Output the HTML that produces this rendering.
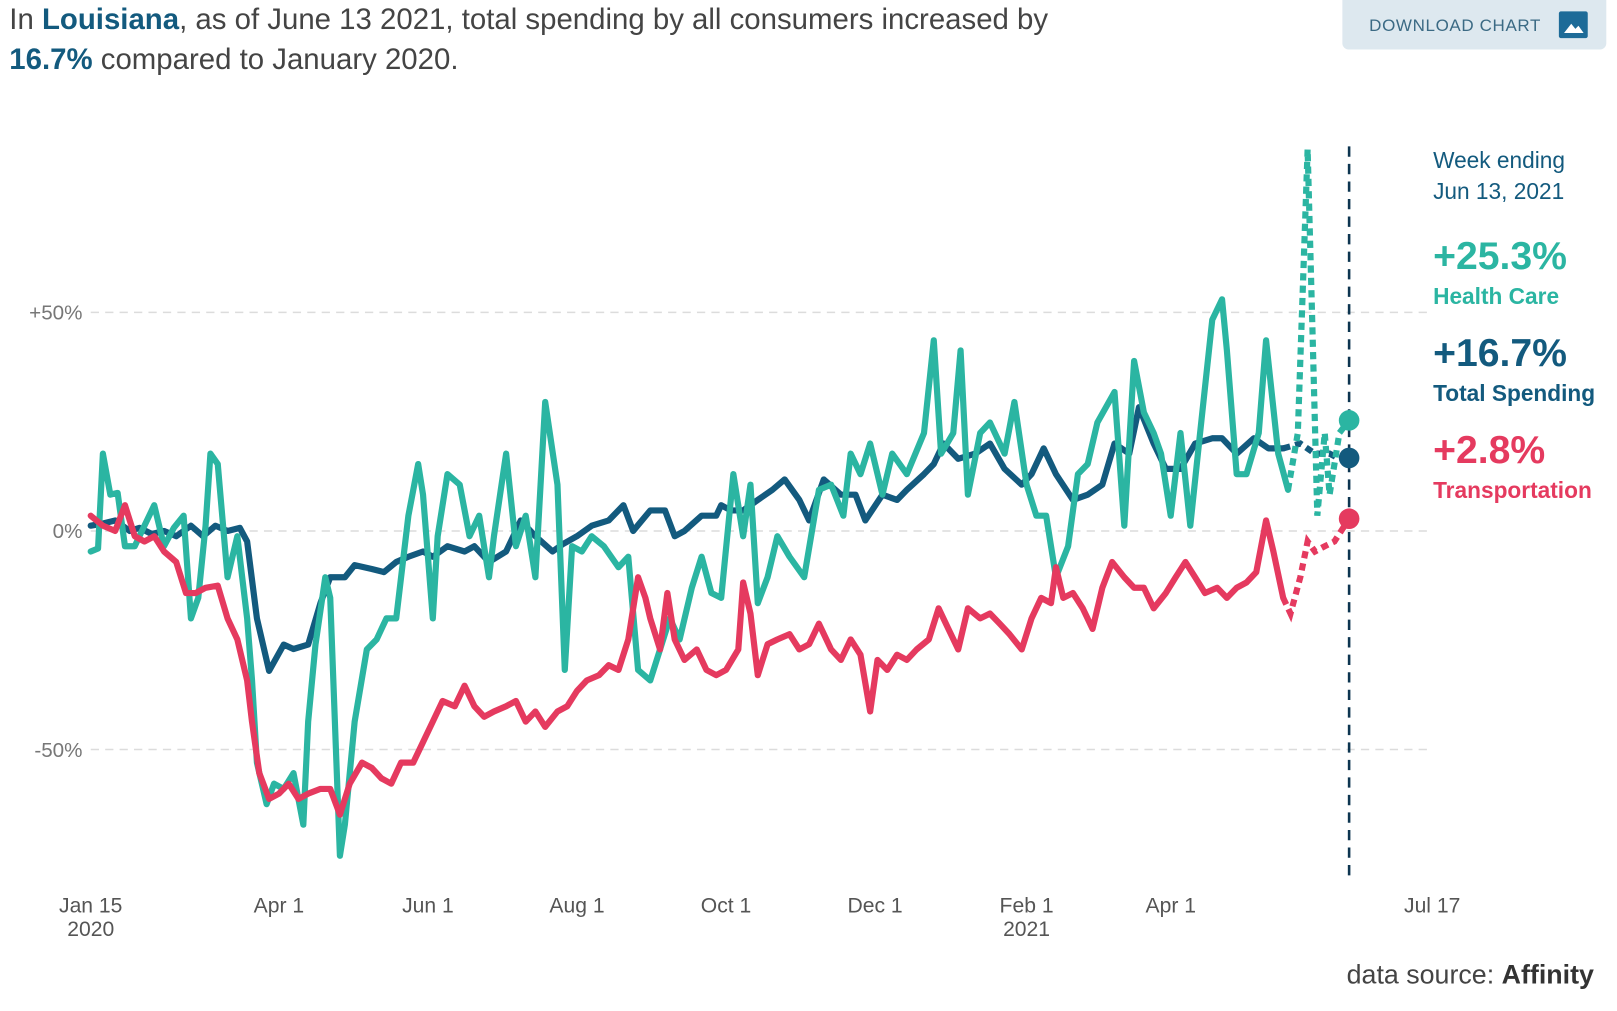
<!DOCTYPE html>
<html><head><meta charset="utf-8">
<style>
body{margin:0;width:1617px;height:1011px;background:#fff;font-family:"Liberation Sans",sans-serif;overflow:hidden;position:relative}
#wrap{position:absolute;left:0;top:0;width:1568px;height:981px;transform:scale(1.031);transform-origin:0 0}
.hdr{position:absolute;left:9px;top:0px;font-size:28.5px;line-height:39px;color:#444;white-space:nowrap}
.hdr b{color:#135a7e}
.btn{position:absolute;left:1302px;top:0;width:256px;height:48px;background:#dde8ef;border-radius:0 0 6px 6px;color:#3b6a84;font-size:16.5px;letter-spacing:0.6px}
.btn span{position:absolute;left:26px;top:16px}
.btn i{position:absolute;left:210px;top:11px;width:28px;height:26px;background:#1d6b98;border-radius:2px}
.src{position:absolute;right:22px;top:930px;font-size:26px;color:#444}
.src b{color:#333}
</style></head><body>
<div id="wrap">
<div class="hdr">In <b>Louisiana</b>, as of June 13 2021, total spending by all consumers increased by<br><b>16.7%</b> compared to January 2020.</div>
<div class="btn"><span>DOWNLOAD CHART</span><i><svg width="28" height="26"><path d="M5 21 L12 12 L16 17 L19 14 L24 21Z" fill="#fff"/></svg></i></div>
<svg id="chart" width="1568" height="981" style="position:absolute;left:0;top:0"></svg>
<div class="src">data source: <b>Affinity</b></div>
</div>
<script>
const tickVals=[50,0,-50];
const tickLabels=["+50%","0%","-50%"];
const xTickDays=[0,77,138,199,260,321,383,442,549];
const xTickLabels=["Jan 15","Apr 1","Jun 1","Aug 1","Oct 1","Dec 1","Feb 1","Apr 1","Jul 17"];
const xTickYears=["2020","","","","","","2021","",""];
const dashFrom=490;
const totalDays=[0,5,10,16,20,25,30,35,41,46,51,56,61,64,68,73,79,83,89,94,98,104,108,115,120,125,130,136,140,146,153,157,163,170,176,182,189,193,199,205,212,218,222,229,235,239,243,250,256,258,262,267,273,279,284,290,294,300,307,313,317,324,330,334,341,345,349,355,362,368,374,381,385,390,395,402,408,414,419,425,429,435,440,446,452,459,463,469,476,482,488,495,501,507,511,515];
const totalVals=[1.2,1.7,2.4,0,0.7,-0.7,0,-1.2,1.2,-1.2,1.2,0,0.7,-2.4,-20,-32,-26,-27,-26,-16.5,-10.6,-10.6,-7.8,-8.7,-9.4,-7.1,-5.9,-4.7,-5.9,-3.5,-4.7,-3.5,-7.1,-4.7,2.4,-1.2,-4.7,-3.1,-1.2,1.2,2.4,5.9,0,4.7,4.7,-1.2,0,3.5,3.5,5.9,4.7,4.7,7.1,9.4,11.8,7.1,2.4,11.8,8.3,8.3,2.4,8.3,7.1,9.4,13,15.3,20,16.5,17.7,20,14.2,10.6,13,18.9,13,7.1,8.3,10.6,20,17.7,28.3,20,14.2,14.2,20,21.2,21.2,17.7,21.2,18.9,18.9,20,17.7,17.7,16.5,16.7];
const healthDays=[0,3,5,8,11,14,18,22,26,30,34,38,41,44,47,49,52,56,60,62,64,66,68,72,75,79,83,87,89,92,96,98,102,104,108,113,117,121,125,130,134,136,140,142,146,151,155,159,163,165,170,174,178,182,186,191,194,197,201,205,210,216,220,224,229,233,237,241,246,250,254,258,263,267,270,273,277,281,286,292,298,303,308,311,315,319,324,328,334,341,345,348,353,356,359,364,368,374,378,383,387,391,395,400,404,408,412,419,423,427,431,435,438,442,446,450,454,459,463,465,469,473,478,481,486,490,494,495,498,500,502,505,507,511,515];
const healthVals=[-4.7,-4,17.7,8.3,8.7,-3.5,-3.5,1.2,5.9,-3.5,0.7,3.5,-20,-15.3,1.2,17.7,15.3,-10.6,-1.2,-10.6,-20,-34,-53,-62.5,-57.8,-59,-55.4,-67.2,-43.6,-26,-10.6,-15.3,-74.3,-67.2,-43.6,-27.1,-24.8,-20,-20,3.5,15.3,8.3,-20,-1.2,13,10.6,-1.2,3.5,-10.6,-1.2,17.7,-3.5,3.5,-10.6,29.5,10.6,-31.8,-3.5,-4.7,-1.2,-3.5,-8.3,-5.9,-31.8,-34.2,-27.1,-20,-24.8,-13,-5.9,-14.2,-15.3,13,-1.2,10.6,-16.5,-10.6,-1.2,-5.9,-10.6,9.4,10.6,3.5,17.7,13,20,8.3,17.7,13,22.4,43.6,17.7,22.4,41.3,8.3,22.4,24.8,17.7,29.5,10.6,3.5,3.5,-10.6,-3.5,13,15.3,24.8,31.8,1.2,38.9,27.1,22.4,17.7,3.5,22.4,1.2,22.4,48.3,53,41.3,13,13,22.4,43.6,17.7,9.4,22.4,38.9,87.3,46,3.5,22.4,8.3,22.4,25.3];
const transDays=[0,5,10,14,18,22,26,30,35,39,43,47,52,56,60,64,66,69,73,77,81,85,89,94,98,102,106,111,115,119,123,127,132,136,140,144,149,153,157,161,165,170,174,178,182,186,191,195,199,203,208,212,216,220,224,227,229,233,236,239,243,248,252,256,260,265,267,270,273,277,281,286,290,294,298,303,307,311,315,319,322,326,330,334,338,343,347,351,355,359,364,368,372,376,381,385,389,393,395,398,402,406,410,414,418,423,427,431,435,440,444,448,452,456,461,465,469,473,477,481,484,488,491,495,498,501,505,509,515];
const transVals=[3.5,1.2,0,5.9,-1.2,-2.4,-1.2,-4.7,-7.1,-14.2,-14.2,-13,-12.5,-20,-24.8,-34.2,-43.6,-55.4,-61.3,-60.1,-57.8,-61.3,-60.1,-59,-59,-64.9,-57.8,-53,-54.2,-56.6,-57.8,-53,-53,-48.3,-43.6,-38.9,-40.1,-35.4,-40.1,-42.5,-41.3,-40.1,-38.9,-43.6,-41.3,-44.8,-41.3,-40.1,-36.6,-34.2,-33,-30.7,-31.8,-24.8,-10.6,-15.3,-20,-27.1,-14.2,-24.8,-29.5,-27.1,-31.8,-33,-31.8,-27.1,-11.8,-18.9,-33,-25.9,-24.8,-23.6,-27.1,-25.9,-21.2,-27.1,-29.5,-24.8,-28.3,-41.3,-29.5,-31.8,-28.3,-29.5,-27.1,-24.8,-17.7,-22.4,-27.1,-17.7,-20,-18.9,-21.2,-23.6,-27.1,-20,-15.3,-16.5,-8.3,-15.3,-14.2,-17.7,-22.4,-13,-7.1,-10.6,-13,-13,-17.7,-14.2,-10.6,-7.1,-10.6,-14.2,-13,-15.3,-13,-11.8,-9.4,2.4,-4.7,-15.3,-18.9,-10.6,-2.4,-4.7,-3.5,-2.4,2.8];

const NS="http://www.w3.org/2000/svg";
const svg=document.getElementById('chart');
const X=d=>88+d*2.37;
const Y=v=>515-v*4.24;
function mk(t,a){const e=document.createElementNS(NS,t);for(const k in a)e.setAttribute(k,a[k]);svg.appendChild(e);return e;}
tickVals.forEach((v,i)=>{
  const g=mk('line',{x1:88,x2:1385,y1:Y(v),y2:Y(v),stroke:'#dcdcdc','stroke-width':1.5,'stroke-dasharray':'8,6'});
  
  
  const t=mk('text',{x:80,y:Y(v)+7,'text-anchor':'end','font-size':20,fill:'#777'});
  t.textContent=tickLabels[i];
  
  
});
xTickDays.forEach((d,i)=>{
  const t=mk('text',{x:X(d),y:885,'text-anchor':'middle','font-size':20.5,fill:'#555'});
  t.textContent=xTickLabels[i];
  
  
  if(xTickYears[i]){const y=mk('text',{x:X(d),y:908,'text-anchor':'middle','font-size':20.5,fill:'#555'});y.textContent=xTickYears[i];
    
    }
});
const vl=mk('line',{x1:X(515),x2:X(515),y1:142,y2:852,stroke:'#0d3550','stroke-width':2.5,'stroke-dasharray':'10,7'});


function series(days,vals,color,name){
  let solid=[],dash=[];
  days.forEach((d,i)=>{const p=X(d).toFixed(1)+','+Y(vals[i]).toFixed(1);
    if(d<=dashFrom)solid.push(p);if(d>=dashFrom||(i+1<days.length&&days[i+1]>dashFrom&&d<dashFrom))dash.push(p);});
  const a=mk('polyline',{points:solid.join(' '),fill:'none',stroke:color,'stroke-width':6,'stroke-linejoin':'round','stroke-linecap':'round'});
  
  
  const b=mk('polyline',{points:dash.join(' '),fill:'none',stroke:color,'stroke-width':6,'stroke-dasharray':'7,5'});
  
  
  const c=mk('circle',{cx:X(days[days.length-1]),cy:Y(vals[vals.length-1]),r:10,fill:color});
  
  
}
series(totalDays,totalVals,'#135a7e','total-spending');
series(healthDays,healthVals,'#2bb5a2','health-care');
series(transDays,transVals,'#e53a5f','transportation');
const leg=[["Week ending",163,22,'#135a7e','normal'],["Jun 13, 2021",193,22,'#135a7e','normal'],
["+25.3%",261,38,'#2bb5a2','bold'],["Health Care",295,22,'#2bb5a2','bold'],
["+16.7%",355,38,'#135a7e','bold'],["Total Spending",389,22,'#135a7e','bold'],
["+2.8%",449,38,'#e53a5f','bold'],["Transportation",483,22,'#e53a5f','bold']];
leg.forEach(l=>{const t=mk('text',{x:1390,y:l[1],'font-size':l[2],fill:l[3],'font-weight':l[4]});t.textContent=l[0];
  
  });
</script>
</body></html>
